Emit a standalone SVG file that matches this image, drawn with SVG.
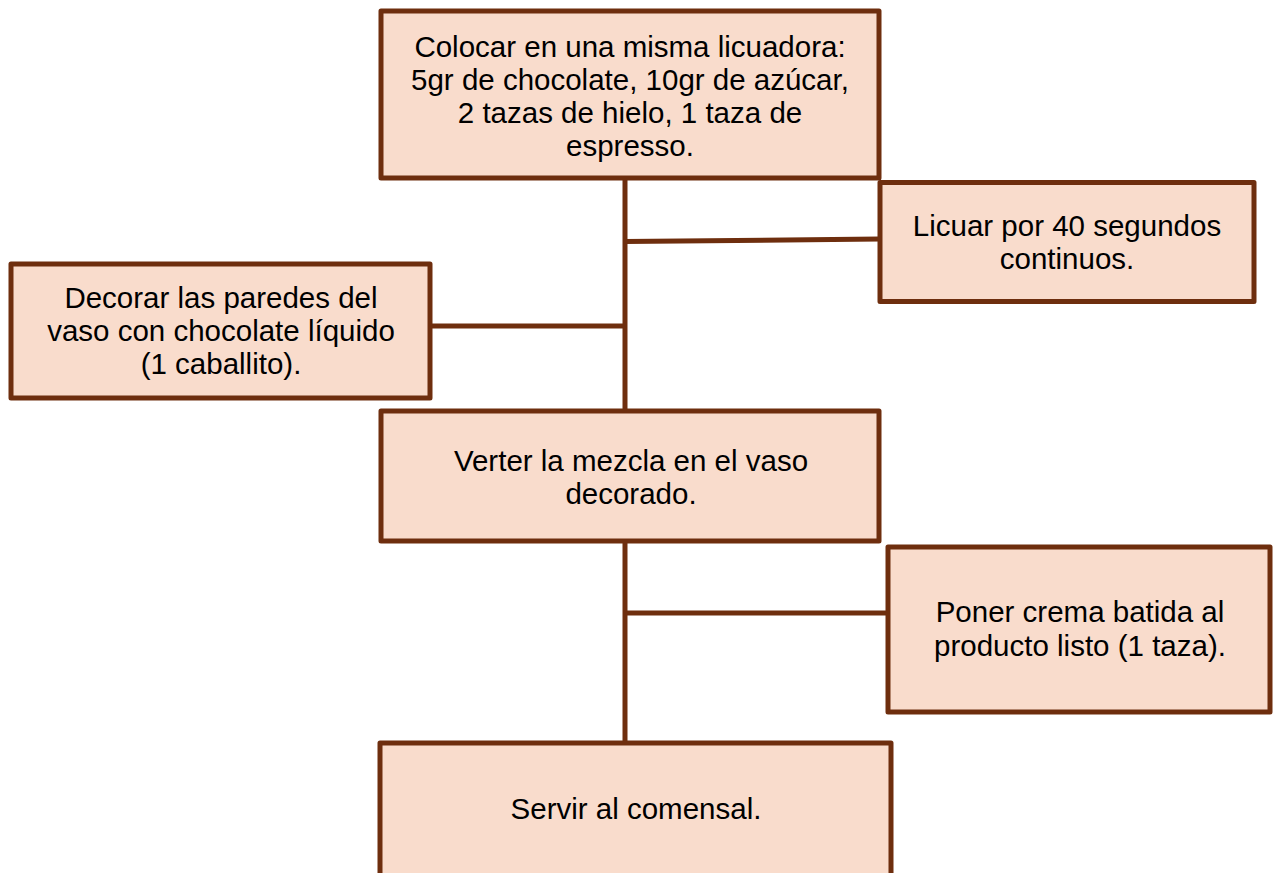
<svg xmlns="http://www.w3.org/2000/svg" width="1274" height="873" viewBox="0 0 1274 873">
<style>
.box{fill:#F9DCCC;stroke:#6E2E0E;stroke-width:5;stroke-linejoin:round}
.ln{stroke:#6E2E0E;stroke-width:5;fill:none}
text{font-family:"Liberation Sans",Arial,sans-serif;font-size:29.5px;fill:#000;text-anchor:middle}
</style>
<rect width="1274" height="873" fill="#fff"/>
<g id="connectors">
<line class="ln" x1="625" y1="178" x2="625" y2="410"/>
<line class="ln" x1="625" y1="241.5" x2="880" y2="239"/>
<line class="ln" x1="432" y1="326" x2="625" y2="326"/>
<line class="ln" x1="625" y1="542" x2="625" y2="742"/>
<line class="ln" x1="625" y1="613" x2="887" y2="613"/>
</g>
<g id="n1">
<rect class="box" x="381" y="11" width="498" height="167"/>
<text x="630" y="57">Colocar en una misma licuadora:</text>
<text x="630" y="90">5gr de chocolate, 10gr de azúcar,</text>
<text x="630" y="123">2 tazas de hielo, 1 taza de</text>
<text x="630" y="156">espresso.</text>
</g>
<g id="n2">
<rect class="box" x="880" y="182.5" width="374" height="119"/>
<text x="1067" y="236">Licuar por 40 segundos</text>
<text x="1067" y="269">continuos.</text>
</g>
<g id="n3">
<rect class="box" x="11" y="264" width="419" height="134"/>
<text x="221" y="308">Decorar las paredes del</text>
<text x="221" y="341">vaso con chocolate líquido</text>
<text x="221" y="374">(1 caballito).</text>
</g>
<g id="n4">
<rect class="box" x="381" y="411" width="498" height="130"/>
<text x="631" y="471">Verter la mezcla en el vaso</text>
<text x="631" y="504">decorado.</text>
</g>
<g id="n5">
<rect class="box" x="888" y="547" width="382" height="165"/>
<text x="1080" y="622">Poner crema batida al</text>
<text x="1080" y="656">producto listo (1 taza).</text>
</g>
<g id="n6">
<rect class="box" x="380" y="743" width="511" height="140"/>
<text x="636" y="819">Servir al comensal.</text>
</g>
</svg>
